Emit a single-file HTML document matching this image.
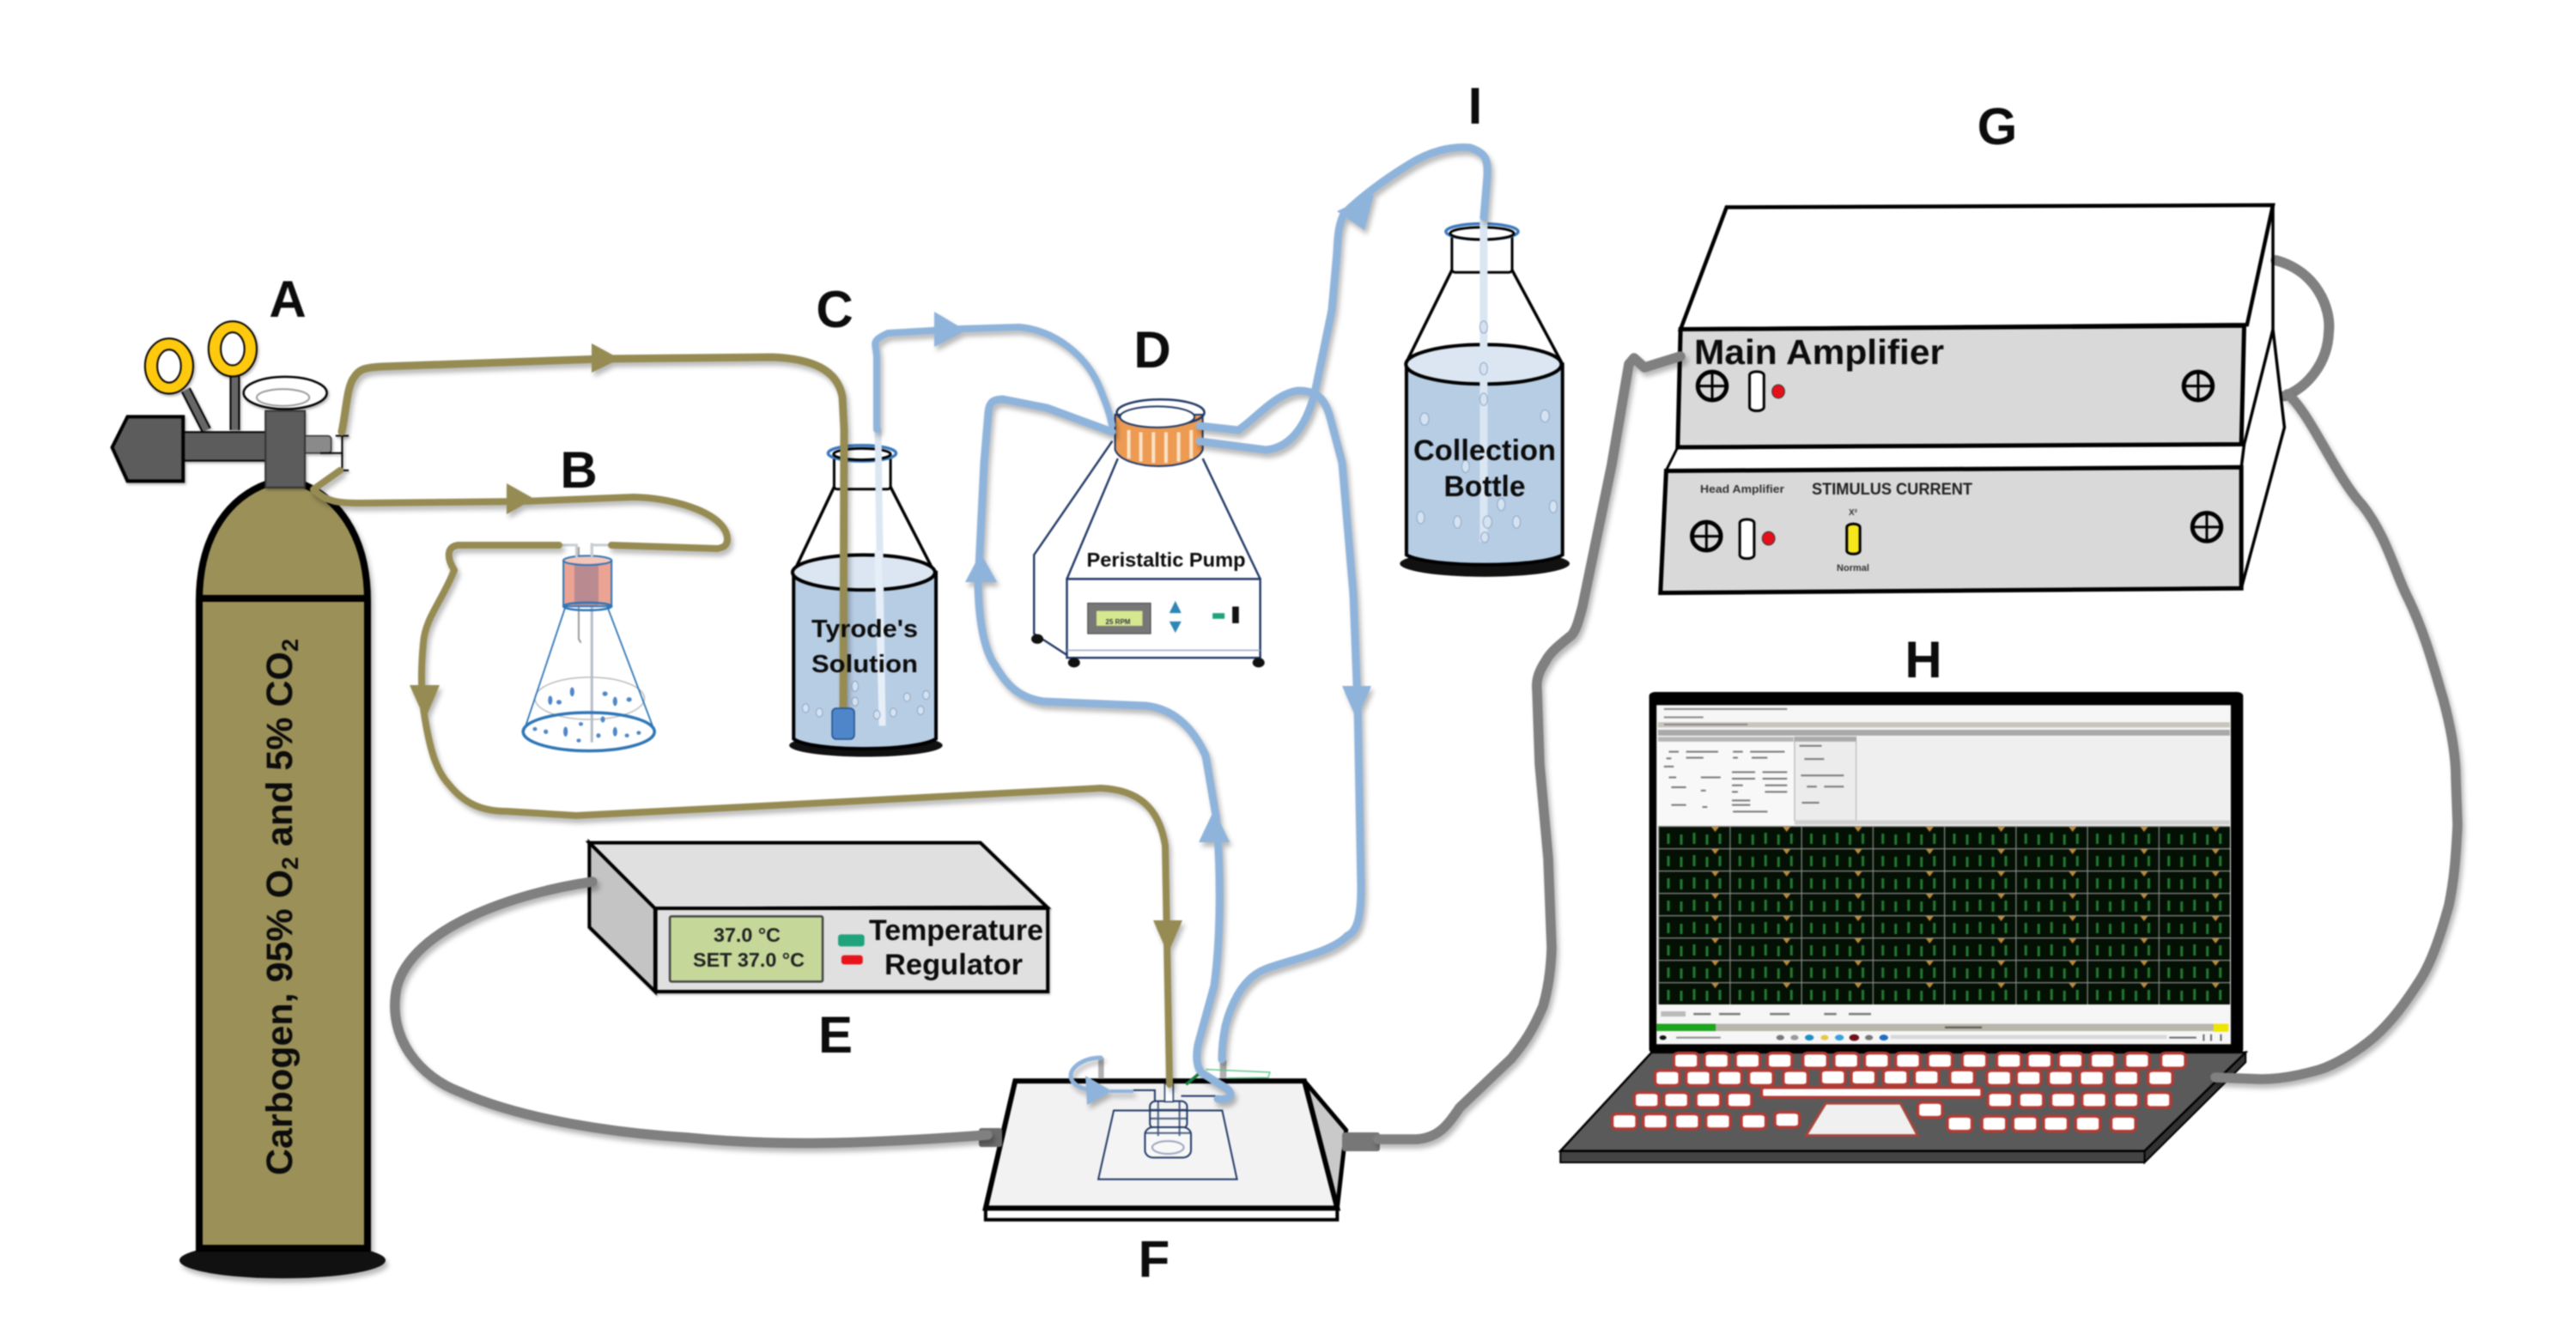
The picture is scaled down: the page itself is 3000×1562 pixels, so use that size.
<!DOCTYPE html>
<html><head><meta charset="utf-8">
<style>
html,body{margin:0;padding:0;background:#fff}
svg{display:block;filter:blur(.9px)}
svg *{vector-effect:non-scaling-stroke}
text{font-family:"Liberation Sans",sans-serif;font-weight:bold;fill:#0c0c0c}
.sh{filter:drop-shadow(3px 5px 3px rgba(0,0,0,.28))}
.ol{fill:none;stroke:#968c53;stroke-width:9;stroke-linejoin:round;stroke-linecap:round}
.bl{fill:none;stroke:#8fb4dc;stroke-width:9;stroke-linejoin:round;stroke-linecap:round}
.gr{fill:none;stroke:#808080;stroke-width:11.5;stroke-linejoin:round;stroke-linecap:round}
.lab{font-size:60px;text-anchor:middle}
.navy{fill:none;stroke:#1f3864;stroke-width:2}
.bub{fill:#d5e2f0;stroke:#8aa6c6;stroke-width:1}
.dot{fill:#4f86c4}
</style></head><body>
<svg xmlns="http://www.w3.org/2000/svg" width="3000" height="1562" viewBox="0 0 3000 1562">
<defs>
<pattern id="cell" x="1931" y="962" width="83.25" height="26" patternUnits="userSpaceOnUse">
<rect width="83.25" height="26" fill="#041004"/>
<path d="M12 9V21M27 10V22M42 8V21M57 10V22M72 9V21" stroke="#237a32" stroke-width="3"/>
<path d="M0 0H83.25M0 0V26" stroke="#8a8a8a" stroke-width="2.4"/>
<path d="M62 1h9l-4.5 6z" fill="#b9893a"/>
</pattern>
<g id="k"><rect x="-25" y="-23" width="50" height="46" rx="10" fill="#fff" stroke="#b23a34" stroke-width="3.5"/></g>
<g id="scr"><ellipse rx="25" ry="46" fill="#d9d9d9" stroke="#000" stroke-width="5"/><path d="M-25 0H25M0 -46V46" stroke="#000" stroke-width="3"/></g>
</defs>

<!-- Cylinder -->
<g class="sh">
<ellipse cx="329" cy="1468" rx="120" ry="21" fill="#111"/>
<path d="M232 700C232 620 270 578 312 563L350 563C390 578 428 620 428 700L428 1454L232 1454Z" fill="#9b9058" stroke="#000" stroke-width="8"/>
<path d="M230 697H430" stroke="#000" stroke-width="8"/>
</g>
<text transform="translate(340,1369) rotate(-90)" font-size="43">Carbogen, 95% O<tspan dy="7" font-size="27">2</tspan><tspan dy="-7"> and 5% CO</tspan><tspan dy="7" font-size="27">2</tspan></text>

<!-- Valve -->
<g transform="translate(100,280) scale(.5102,.4464)" class="sh">
<path d="M228 390L275 495" stroke="#000" stroke-width="12"/><path d="M228 390L275 495" stroke="#666" stroke-width="8"/>
<path d="M340 355V495" stroke="#000" stroke-width="12"/><path d="M340 355V495" stroke="#666" stroke-width="8"/>
<ellipse cx="190" cy="328" rx="55" ry="72" fill="#ffc90e" stroke="#000" stroke-width="2"/>
<ellipse cx="190" cy="328" rx="27" ry="43" fill="#fff" stroke="#000" stroke-width="2"/>
<ellipse cx="335" cy="283" rx="55" ry="72" fill="#ffc90e" stroke="#000" stroke-width="2"/>
<ellipse cx="335" cy="283" rx="27" ry="43" fill="#fff" stroke="#000" stroke-width="2"/>
<rect x="220" y="500" width="195" height="75" fill="#5c5c5c" stroke="#000" stroke-width="2"/>
<polygon points="60,540 95,460 222,460 222,628 95,628" fill="#5c5c5c" stroke="#000" stroke-width="4"/>
<rect x="490" y="510" width="70" height="45" rx="8" fill="#8a8a8a" stroke="#333" stroke-width="1.5"/>
<rect x="410" y="445" width="90" height="200" fill="#5c5c5c" stroke="#333" stroke-width="2"/>
<ellipse cx="455" cy="398" rx="95" ry="42" fill="#fff" stroke="#000" stroke-width="2.5"/>
<ellipse cx="450" cy="410" rx="60" ry="22" fill="none" stroke="#999" stroke-width="2"/>
<path d="M585 505V600M570 510H600M570 600H600M535 555H585" fill="none" stroke="#000" stroke-width="2"/>
</g>

<!-- Flask B -->
<g transform="translate(100,280) scale(.5102,.4464)">
<ellipse cx="1150" cy="1195" rx="125" ry="55" fill="none" stroke="#bbb" stroke-width="1.5"/>
<path d="M1095 955L1000 1280M1190 955L1298 1280" fill="none" stroke="#2e75b6" stroke-width="1.8"/>
<path d="M1155 790V1310" stroke="#b5bcc8" stroke-width="3"/>
<path d="M1125 800V1040L1130 1050" fill="none" stroke="#999" stroke-width="2"/>
<rect x="1090" y="835" width="110" height="120" fill="#eba393" stroke="#2e75b6" stroke-width="2"/>
<rect x="1115" y="838" width="55" height="115" fill="#9a7a90" opacity=".6"/>
<ellipse cx="1145" cy="835" rx="55" ry="12" fill="#f5c5b8" stroke="#2e75b6" stroke-width="2"/>
<ellipse cx="1145" cy="955" rx="55" ry="10" fill="none" stroke="#2e75b6" stroke-width="2.5"/>
<ellipse cx="1148" cy="1282" rx="150" ry="50" fill="none" stroke="#2e75b6" stroke-width="3.5"/>
<g class="dot"><ellipse cx="1060" cy="1200" rx="5" ry="12"/><ellipse cx="1080" cy="1205" rx="6" ry="6"/><ellipse cx="1110" cy="1178" rx="5" ry="12"/><ellipse cx="1185" cy="1183" rx="6" ry="6"/><ellipse cx="1208" cy="1203" rx="5" ry="12"/><ellipse cx="1240" cy="1198" rx="6" ry="6"/><ellipse cx="1050" cy="1282" rx="5" ry="6"/><ellipse cx="1095" cy="1282" rx="5" ry="13"/><ellipse cx="1125" cy="1305" rx="5" ry="5"/><ellipse cx="1170" cy="1292" rx="5" ry="6"/><ellipse cx="1208" cy="1282" rx="5" ry="12"/><ellipse cx="1235" cy="1292" rx="5" ry="5"/><ellipse cx="1262" cy="1285" rx="5" ry="5"/><ellipse cx="1025" cy="1275" rx="5" ry="5"/><ellipse cx="1130" cy="1262" rx="5" ry="5"/><ellipse cx="1180" cy="1250" rx="5" ry="8"/></g>
<path d="M1085 795H1120V830M1195 795H1155V830" fill="none" stroke="#c8ccd4" stroke-width="3"/>
</g>

<!-- Bottle C -->
<g transform="translate(900,80) scale(.6378,.5102)">
<ellipse cx="170" cy="1545" rx="140" ry="26" fill="#111"/>
<path d="M38 1150V1530C70 1560 260 1560 298 1530V1150Z" fill="#b7cde4" stroke="#000" stroke-width="4"/>
<path d="M112 955L38 1150H295L215 955Z" fill="#fff" stroke="#000" stroke-width="3.5"/>
<ellipse cx="166" cy="1150" rx="130" ry="40" fill="#dbe6f2" stroke="#000" stroke-width="4"/>
<rect x="112" y="880" width="103" height="80" rx="6" fill="#fff" stroke="#000" stroke-width="3"/>
<ellipse cx="163" cy="878" rx="62" ry="18" fill="none" stroke="#3b79c0" stroke-width="3.5"/>
<ellipse cx="163" cy="880" rx="52" ry="13" fill="#fff" stroke="#000" stroke-width="3"/>
<path d="M192 820L200 1500" stroke="#dce7f4" stroke-width="8"/>
<path d="M192 1100L200 1500" stroke="#e6eef7" stroke-width="8"/>
<g class="bub"><ellipse cx="60" cy="1460" rx="6" ry="10"/><ellipse cx="85" cy="1470" rx="6" ry="10"/><ellipse cx="150" cy="1410" rx="6" ry="12"/><ellipse cx="150" cy="1445" rx="6" ry="10"/><ellipse cx="190" cy="1475" rx="6" ry="10"/><ellipse cx="220" cy="1470" rx="6" ry="10"/><ellipse cx="245" cy="1435" rx="6" ry="10"/><ellipse cx="270" cy="1465" rx="6" ry="10"/><ellipse cx="280" cy="1430" rx="6" ry="10"/></g>
</g>

<!-- Bottle I -->
<g transform="translate(900,80) scale(.6378,.5102)">
<ellipse cx="1300" cy="1130" rx="155" ry="30" fill="#111"/>
<path d="M1157 675V1110C1200 1140 1400 1140 1442 1110V675Z" fill="#b7cde4" stroke="#000" stroke-width="4"/>
<path d="M1240 460L1157 670H1440L1350 460Z" fill="#fff" stroke="#000" stroke-width="3.5"/>
<ellipse cx="1298" cy="675" rx="142" ry="45" fill="#dbe6f2" stroke="#000" stroke-width="4"/>
<rect x="1240" y="375" width="110" height="90" rx="6" fill="#fff" stroke="#000" stroke-width="3"/>
<ellipse cx="1295" cy="372" rx="66" ry="18" fill="none" stroke="#3b79c0" stroke-width="3.5"/>
<ellipse cx="1295" cy="376" rx="58" ry="14" fill="#fff" stroke="#000" stroke-width="3"/>
<path d="M1298 340V1080" stroke="#dbe6f3" stroke-width="9"/>
<g class="bub"><ellipse cx="1298" cy="590" rx="7" ry="14"/><ellipse cx="1298" cy="685" rx="7" ry="14"/><ellipse cx="1298" cy="755" rx="7" ry="14"/><ellipse cx="1190" cy="800" rx="8" ry="14"/><ellipse cx="1410" cy="793" rx="8" ry="14"/><ellipse cx="1265" cy="908" rx="7" ry="14"/><ellipse cx="1330" cy="995" rx="7" ry="14"/><ellipse cx="1425" cy="1000" rx="7" ry="14"/><ellipse cx="1183" cy="1025" rx="7" ry="14"/><ellipse cx="1250" cy="1035" rx="7" ry="14"/><ellipse cx="1305" cy="1035" rx="8" ry="14"/><ellipse cx="1358" cy="1035" rx="7" ry="14"/><ellipse cx="1300" cy="1070" rx="7" ry="12"/></g>
</g>

<!-- Pump -->
<g transform="translate(900,80) scale(.6378,.5102)">
<path d="M620 850L477 1110V1290L545 1345M630 890L537 1165M785 890L890 1165" fill="none" stroke="#1f3864" stroke-width="2.4"/>
<rect x="537" y="1165" width="353" height="180" fill="#fff" stroke="#1f3864" stroke-width="2.4"/>
<path d="M537 1328H890" stroke="#9aa5bb" stroke-width="1.5"/>
<circle cx="483" cy="1302" r="11" fill="#111"/><circle cx="550" cy="1356" r="11" fill="#111"/><circle cx="887" cy="1356" r="11" fill="#111"/>
<rect x="575" y="1220" width="115" height="70" fill="#777" stroke="#444" stroke-width="1"/>
<rect x="591" y="1238" width="84" height="34" fill="#d5e88f"/>
<path d="M735 1215L746 1243H724ZM735 1288L746 1262H724Z" fill="#2e86b6"/>
<rect x="803" y="1243" width="22" height="13" fill="#1fa37a"/>
<rect x="839" y="1228" width="12" height="38" fill="#111"/>
<path d="M625 790V870C640 920 770 920 785 870V790Z" fill="#ed9a53" stroke="#1f3864" stroke-width="2"/>
<path d="M650 825V890M672 830V897M695 830V900M718 830V900M741 830V897M764 825V890" stroke="#fbe3c6" stroke-width="4"/>
<ellipse cx="708" cy="785" rx="80" ry="30" fill="none" stroke="#1f3864" stroke-width="2.5"/>
<ellipse cx="702" cy="795" rx="68" ry="24" fill="#fff" stroke="#1f3864" stroke-width="2"/>
</g>
<text x="1358" y="660" font-size="23" text-anchor="middle" textLength="185" lengthAdjust="spacingAndGlyphs">Peristaltic Pump</text>
<text x="1302" y="727" font-size="8" text-anchor="middle" style="fill:#334">25 RPM</text>

<!-- Amplifier -->
<g transform="translate(1850,180) scale(.6698,.3571)">
<path class="gr" style="stroke-width:12" d="M1195 345C1265 380 1292 500 1287 580C1285 680 1250 760 1210 788"/>
<polygon points="240,172 1190,165 1145,555 160,570" fill="#fff" stroke="#000" stroke-width="4.5"/>
<path d="M1190 165V570L1210 890L1135 1415V1020L1140 945L1190 570" fill="#fff" stroke="#000" stroke-width="3.5"/>
<polygon points="160,570 1140,558 1135,945 155,955" fill="#d9d9d9" stroke="#000" stroke-width="5"/>
<path d="M155 955L135 1030" stroke="#000" stroke-width="3"/>
<polygon points="135,1032 1135,1020 1135,1415 125,1430" fill="#d9d9d9" stroke="#000" stroke-width="5"/>
<use href="#scr" x="215" y="755"/><use href="#scr" x="1060" y="755"/><use href="#scr" x="205" y="1245"/><use href="#scr" x="1075" y="1215"/>
<rect x="280" y="708" width="25" height="128" rx="12" fill="#fff" stroke="#000" stroke-width="3"/>
<rect x="263" y="1190" width="25" height="128" rx="12" fill="#fff" stroke="#000" stroke-width="3"/>
<ellipse cx="330" cy="773" rx="11" ry="22" fill="#e4101a" stroke="#333" stroke-width="1"/>
<ellipse cx="313" cy="1252" rx="11" ry="22" fill="#e4101a" stroke="#333" stroke-width="1"/>
<rect x="449" y="1205" width="23" height="98" rx="11" fill="#f6e61c" stroke="#000" stroke-width="3"/>
</g>
<text x="1973" y="424" font-size="41" textLength="291" lengthAdjust="spacingAndGlyphs">Main Amplifier</text>
<text x="1980" y="574" font-size="13" textLength="98" lengthAdjust="spacingAndGlyphs" style="fill:#333">Head Amplifier</text>
<text x="2110" y="576" font-size="19" textLength="187" lengthAdjust="spacingAndGlyphs" style="fill:#222">STIMULUS CURRENT</text>
<text x="2158" y="600" font-size="10" text-anchor="middle" style="fill:#333">X²</text>
<text x="2158" y="665" font-size="11" text-anchor="middle" style="fill:#333">Normal</text>

<!-- Temperature regulator -->
<g transform="translate(650,960) scale(.3827,.3333)" class="sh">
<polygon points="95,65 1285,65 1488,290 295,295" fill="#e0e0e0" stroke="#000" stroke-width="4"/>
<polygon points="95,65 295,295 295,585 95,360" fill="#c4c4c4" stroke="#000" stroke-width="4"/>
<rect x="297" y="294" width="1193" height="291" fill="#e0e0e0" stroke="#000" stroke-width="4"/>
<rect x="340" y="322" width="465" height="228" rx="5" fill="#c5d89a" stroke="#444" stroke-width="2.5"/>
<rect x="852" y="385" width="80" height="42" rx="9" fill="#1fa37a"/>
<rect x="862" y="458" width="65" height="32" rx="9" fill="#e8141c"/>
</g>
<text x="870" y="1097" font-size="23" text-anchor="middle" style="fill:#222" textLength="78" lengthAdjust="spacingAndGlyphs">37.0 °C</text>
<text x="872" y="1126" font-size="23" text-anchor="middle" style="fill:#222" textLength="130" lengthAdjust="spacingAndGlyphs">SET 37.0 °C</text>
<text x="1012" y="1095" font-size="34" textLength="203" lengthAdjust="spacingAndGlyphs">Temperature</text>
<text x="1030" y="1135" font-size="34" textLength="161" lengthAdjust="spacingAndGlyphs">Regulator</text>

<!-- Plate F -->
<g transform="translate(1100,1148) scale(.3827,.3367)">
<polygon points="1095,330 1222,500 1195,770" fill="#c9c9c9" stroke="#000" stroke-width="5"/>
<polygon points="125,770 1195,770 1195,810 125,810" fill="#fff" stroke="#000" stroke-width="4"/>
<polygon points="215,330 1095,330 1195,770 125,770" fill="#f2f2f2" stroke="#000" stroke-width="6"/>
<polygon points="515,432 845,432 890,670 468,670" fill="#f4f4f4" stroke="#1f3864" stroke-width="2"/>
<rect x="625" y="400" width="113" height="95" rx="18" fill="#f0f2f6" class="navy"/>
<rect x="610" y="490" width="140" height="105" rx="25" class="navy" style="fill:#f8f8f8"/>
<ellipse cx="680" cy="560" rx="48" ry="22" fill="none" stroke="#9aa5bb" stroke-width="2"/>
<path d="M650 400V520M715 400V520M625 430H738M625 460H738M610 510H750" class="navy" stroke-opacity=".8"/>
<rect x="670" y="340" width="26" height="62" fill="#fff" stroke="#1f3864" stroke-width="1.5"/>
<path d="M575 362H640V400M720 382H825" class="navy"/>
<rect x="468" y="250" width="17" height="72" fill="#b0b0b0"/>
<rect x="838" y="258" width="20" height="62" fill="#b0b0b0"/>
<path d="M735 342L785 295" stroke="#14803a" stroke-width="3.5"/>
<path d="M795 290L990 300L985 318L860 320" fill="none" stroke="#62c78b" stroke-width="1.5"/>
</g>
<!-- Connectors -->
<rect x="1140" y="1314" width="27" height="22" rx="3" fill="#6d6d6d"/>
<rect x="1563" y="1319" width="44" height="22" rx="3" fill="#777"/>

<!-- Laptop -->
<g transform="translate(1800,780) scale(.5741,.3827)">
<polygon points="1420,1165 1420,1195 1215,1500 1215,1465" fill="#333" stroke="#000" stroke-width="2"/>
<rect x="30" y="1465" width="1185" height="35" fill="#444" stroke="#000" stroke-width="2"/>
<polygon points="215,1165 1420,1165 1215,1465 30,1465" fill="#5a5a5a" stroke="#000" stroke-width="2.5"/>
<rect x="210" y="68" width="1205" height="1100" rx="12" fill="#000"/>
<rect x="225" y="108" width="1165" height="1032" fill="#f6f6f6"/>
<rect x="228" y="160" width="1160" height="16" fill="#c8c4bc"/>
<rect x="228" y="183" width="1160" height="18" fill="#a9a9a9"/>
<rect x="228" y="205" width="275" height="265" fill="#f8f8f8"/>
<rect x="228" y="205" width="275" height="14" fill="#b5b5b5"/>
<rect x="505" y="205" width="125" height="255" fill="#ececec" stroke="#aaa" stroke-width="1"/>
<rect x="505" y="205" width="125" height="14" fill="#aaa"/>
<rect x="632" y="205" width="756" height="250" fill="#efefef"/>
<rect x="505" y="458" width="883" height="14" fill="#cfcfcf"/>
<path d="M240 120H490M240 145H320M240 167H410" stroke="#888" stroke-width="2"/>
<path d="M250 250H270M285 250H350M245 270H255M285 268H320M380 250H400M415 250H485M380 268H390M418 268H450M240 295H260M250 328H265M315 328H355M255 358H285M255 412H285M315 368H325M318 418H328M378 312H425M440 312H490M378 332H425M440 332H490M378 352H400M445 352H490M445 372H490M378 372H390M378 398H415M378 412H415M380 432H450M515 232H560M525 272H565M518 322H605M530 356H550M565 356H605M520 405H555" stroke="#777" stroke-width="2"/>
<rect x="234" y="1040" width="50" height="16" fill="#bbb"/>
<path d="M300 1048H335M352 1048H395M455 1048H495M565 1048H590M615 1048H660" stroke="#777" stroke-width="2.5"/>
<rect x="225" y="1078" width="1160" height="22" fill="#b9b5a9"/>
<rect x="225" y="1078" width="120" height="22" fill="#1da51f"/>
<rect x="1355" y="1078" width="30" height="24" fill="#eee600"/>
<path d="M810 1089H885" stroke="#555" stroke-width="2"/>
<rect x="700" y="1112" width="560" height="12" fill="#d8d8d8"/>
<circle cx="238" cy="1120" r="7" fill="#111"/>
<path d="M265 1120H355" stroke="#888" stroke-width="2"/>
<circle cx="476" cy="1120" r="8" fill="#777"/><circle cx="505" cy="1120" r="8" fill="#999"/><circle cx="535" cy="1120" r="9" fill="#1d8ec6"/><circle cx="566" cy="1120" r="8" fill="#e8c64a"/><circle cx="596" cy="1120" r="9" fill="#3aa0dc"/><circle cx="626" cy="1120" r="10" fill="#70101a"/><circle cx="656" cy="1120" r="8" fill="#777"/><circle cx="686" cy="1120" r="9" fill="#1d6ec6"/>
<path d="M1265 1120H1320M1335 1110V1130M1350 1110V1130M1370 1110V1130" stroke="#666" stroke-width="2"/>
<use href="#k" x="285" y="1190"/><use href="#k" x="347" y="1190"/><use href="#k" x="410" y="1190"/><use href="#k" x="475" y="1190"/><use href="#k" x="547" y="1190"/><use href="#k" x="610" y="1190"/><use href="#k" x="672" y="1190"/><use href="#k" x="735" y="1190"/><use href="#k" x="800" y="1190"/><use href="#k" x="870" y="1190"/><use href="#k" x="940" y="1190"/><use href="#k" x="1002" y="1190"/><use href="#k" x="1065" y="1190"/><use href="#k" x="1130" y="1190"/><use href="#k" x="1200" y="1190"/><use href="#k" x="1273" y="1190"/>
<use href="#k" x="247" y="1243"/><use href="#k" x="310" y="1243"/><use href="#k" x="373" y="1243"/><use href="#k" x="437" y="1243"/><use href="#k" x="507" y="1243"/><use href="#k" x="583" y="1241"/><use href="#k" x="645" y="1241"/><use href="#k" x="710" y="1241"/><use href="#k" x="773" y="1241"/><use href="#k" x="845" y="1241"/><use href="#k" x="920" y="1243"/><use href="#k" x="980" y="1243"/><use href="#k" x="1045" y="1243"/><use href="#k" x="1108" y="1243"/><use href="#k" x="1178" y="1243"/><use href="#k" x="1247" y="1243"/>
<use href="#k" x="205" y="1310"/><use href="#k" x="265" y="1310"/><use href="#k" x="330" y="1310"/><use href="#k" x="393" y="1310"/><use href="#k" x="922" y="1310"/><use href="#k" x="985" y="1310"/><use href="#k" x="1050" y="1310"/><use href="#k" x="1113" y="1310"/><use href="#k" x="1178" y="1310"/><use href="#k" x="1243" y="1310"/>
<use href="#k" x="160" y="1375"/><use href="#k" x="223" y="1375"/><use href="#k" x="287" y="1375"/><use href="#k" x="350" y="1375"/><use href="#k" x="422" y="1375"/><use href="#k" x="490" y="1370"/><use href="#k" x="780" y="1340"/><use href="#k" x="840" y="1382"/><use href="#k" x="910" y="1382"/><use href="#k" x="973" y="1382"/><use href="#k" x="1035" y="1382"/><use href="#k" x="1100" y="1382"/><use href="#k" x="1172" y="1382"/>
<rect x="438" y="1272" width="447" height="30" rx="6" fill="#fff" stroke="#b23a34" stroke-width="3.5"/>
<polygon points="568,1320 720,1320 755,1418 528,1418" fill="#f0f0f0" stroke="#a5443c" stroke-width="3"/>
</g>
<rect x="1931" y="962" width="666" height="208" fill="url(#cell)"/>

<!-- Tubes -->
<g class="sh">
<path class="ol" d="M398 503C403 480 404 450 412 440C418 430 425 428 445 427L702 418L900 416C945 418 975 430 981 462L983 500L982 830"/>
<path class="ol" style="stroke-width:8" d="M396 548L365 570C380 585 395 586 420 586L610 584L738 579C790 580 847 600 847 628C847 636 842 638 835 639L712 635"/>
<path class="ol" style="stroke-width:8" d="M651 635L534 635C520 636 520 650 529 664C515 700 495 720 493 749C490 780 490 810 495 838C502 880 510 900 523 914C540 935 560 945 590 945L671 950L904 938L1282 918C1325 920 1350 940 1357 985L1362 1263"/>
<polygon points="689,400 722,418 689,434" fill="#968c53"/>
<polygon points="590,563 622,581 590,599" fill="#968c53"/>
<polygon points="477,798 512,798 495,838" fill="#968c53"/>
<polygon points="1343,1072 1377,1072 1360,1111" fill="#968c53"/>

<path class="bl" style="stroke-width:8" d="M1021 500V417C1021 400 1012 398 1034 388L1120 383L1187 381C1230 385 1265 415 1280 450C1288 470 1292 480 1295 495"/>
<polygon points="1088,363 1125,385 1088,404" fill="#8fb4dc"/>
<path class="bl" d="M1295 503L1219 475L1168 465C1155 465 1152 470 1151 480L1146 539L1139 682C1140 720 1145 750 1155 769C1168 790 1180 812 1215 817L1334 822C1375 826 1395 860 1404 880L1416 950C1422 1010 1422 1090 1414 1148L1395 1217C1392 1235 1395 1245 1400 1250L1429 1268C1437 1275 1433 1282 1418 1280"/>
<polygon points="1142,644 1161,678 1124,678" fill="#8fb4dc"/>
<polygon points="1414,943 1432,981 1396,981" fill="#8fb4dc"/>
<path class="bl" d="M1397 514L1474 524C1500 522 1520 500 1531 458L1551 361L1557 294C1558 270 1560 258 1566 248C1590 225 1614 208 1640 192C1665 176 1690 170 1712 172C1730 178 1733 185 1732 205L1728 253"/>
<polygon points="1600,226 1557,246 1589,268" fill="#8fb4dc"/>
<path class="bl" d="M1397 496L1442 501C1460 490 1485 458 1512 455C1535 455 1544 465 1550 490L1563 539L1576 692L1581 820L1585 1033C1585 1070 1580 1085 1569 1090C1550 1110 1500 1118 1473 1129C1445 1140 1432 1175 1427 1195C1424 1210 1423 1225 1423 1234"/>
<polygon points="1563,799 1597,799 1580,838" fill="#8fb4dc"/>
<path class="bl" style="stroke-width:5" d="M1282 1232C1262 1232 1247 1243 1247 1253C1247 1263 1260 1268 1268 1269"/>
<polygon points="1264,1253 1295,1271 1266,1287" fill="#8fb4dc"/>
<path d="M1293 1271H1320" stroke="#8fb4dc" stroke-width="4"/>

<path class="gr" d="M690 1027C600 1040 480 1080 462 1150C450 1210 490 1255 536 1272C610 1305 720 1320 800 1325C900 1335 1000 1333 1150 1322"/>
<path class="gr" d="M1957 415L1915 428L1903 417L1897 424L1877 541L1843 706C1838 725 1835 735 1830 740C1815 752 1805 760 1800 770C1790 785 1789 795 1790 804L1793 890L1803 1000L1807 1104C1806 1135 1802 1155 1797 1172C1785 1200 1775 1215 1760 1233L1700 1290C1685 1312 1675 1325 1650 1327L1605 1327"/>
<path class="gr" d="M2664 459C2690 480 2720 555 2751 588C2780 625 2790 670 2805 698C2825 740 2835 780 2845 813C2855 850 2860 880 2860 906L2862 961C2860 1000 2858 1025 2852 1054C2842 1090 2832 1120 2818 1142C2800 1170 2785 1190 2765 1208C2745 1225 2720 1240 2701 1246C2680 1252 2655 1257 2634 1257L2580 1255"/>
</g>

<!-- Stopper in bottle C -->
<rect x="969" y="825" width="26" height="36" rx="5" fill="#4e86c9" stroke="#1f4f8a" stroke-width="1.5"/>

<!-- Labels on bottles -->
<text x="1007" y="742" font-size="29" text-anchor="middle" textLength="124" lengthAdjust="spacingAndGlyphs">Tyrode's</text>
<text x="1007" y="783" font-size="29" text-anchor="middle" textLength="124" lengthAdjust="spacingAndGlyphs">Solution</text>
<text x="1729" y="536" font-size="34" text-anchor="middle" textLength="166" lengthAdjust="spacingAndGlyphs">Collection</text>
<text x="1729" y="578" font-size="34" text-anchor="middle" textLength="95" lengthAdjust="spacingAndGlyphs">Bottle</text>

<!-- Letters -->
<text class="lab" x="335" y="369">A</text>
<text class="lab" x="674" y="568">B</text>
<text class="lab" x="972" y="381">C</text>
<text class="lab" x="1342" y="428">D</text>
<text class="lab" x="973" y="1226">E</text>
<text class="lab" x="1344" y="1487">F</text>
<text class="lab" x="2326" y="168">G</text>
<text class="lab" x="2240" y="789">H</text>
<text class="lab" x="1718" y="144">I</text>
</svg>
</body></html>
